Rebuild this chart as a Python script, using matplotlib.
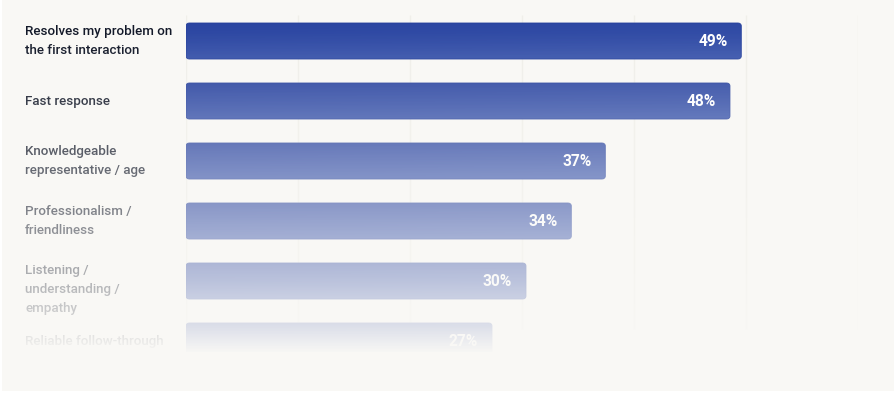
import numpy as np
import matplotlib
matplotlib.use('Agg')
import matplotlib.pyplot as plt
from matplotlib.patches import FancyBboxPatch, Rectangle
from matplotlib.colors import to_rgb
import matplotlib.transforms as mtransforms

plt.rcParams['font.family'] = ['Roboto', 'DejaVu Sans']

# data
labels = ['Resolves my problem on\nthe first interaction',
          'Fast response',
          'Knowledgeable\nrepresentative / age',
          'Professionalism /\nfriendliness',
          'Listening /\nunderstanding /\nempathy',
          'Reliable follow-through']
values = [49, 48, 37, 34, 30, 27]

bg = '#f9f8f5'
bar_top = '#2b45a1'
bar_bottom = '#3c57ad'
text_col = '#131929'
grid_col = '#f0efea'

W, H = 895, 394
fig = plt.figure(figsize=(W / 100, H / 100), dpi=100)
fig.patch.set_facecolor('white')
fig.add_artist(Rectangle((2 / W, 3 / H), 1, 1, transform=fig.transFigure,
                         facecolor=bg, edgecolor='none', zorder=-5))

ax = fig.add_axes([186 / W, (H - 371) / H, 672 / W, 360 / H])
ax.set_facecolor('none')
xmax = 59.3
bh = 0.6

# gridlines
for gx in np.linspace(0, xmax, 7):
    ax.vlines(gx, -0.43, 4.8, color=grid_col, lw=1, zorder=0)

c0 = np.array(to_rgb(bar_top))
c1 = np.array(to_rgb(bar_bottom))
for i, v in enumerate(values):
    patch = FancyBboxPatch((0, i - bh / 2), v, bh,
                           boxstyle='round,pad=0,rounding_size=0.3',
                           mutation_aspect=0.17,
                           facecolor='none', edgecolor='#25409c', lw=0.6, zorder=3)
    ax.add_patch(patch)
    yy, xx = np.mgrid[0:1:24j, 0:1:60j]
    t = 0.75 * yy + 0.25 * xx
    grad = c0[None, None, :] + (c1 - c0)[None, None, :] * t[..., None]
    im = ax.imshow(grad, extent=[0, v, i + bh / 2, i - bh / 2], aspect='auto',
                   interpolation='bilinear', zorder=2)
    im.set_clip_path(patch)
    ax.annotate(f'{v}%', (v, i), xytext=(-10, 0), textcoords='offset points',
                ha='right', va='center', color='white', fontsize=11.2,
                fontweight='bold', zorder=4)

trans = mtransforms.blended_transform_factory(ax.transAxes, ax.transData)
lx = (25 - 186) / 672
for i, lab in enumerate(labels):
    n = lab.count('\n') + 1
    if n <= 2:
        ax.text(lx, i, lab, transform=trans, ha='left', va='center',
                fontsize=9.6, fontweight='medium', color=text_col, linespacing=1.6)
    else:
        ax.text(lx, i - 0.29, lab, transform=trans, ha='left', va='top',
                fontsize=9.6, fontweight='medium', color=text_col, linespacing=1.6)

ax.set_xlim(0, xmax)
ax.set_ylim(5.5, -0.5)
ax.axis('off')

# vertical fade towards the bottom
fade = fig.add_axes([2 / W, 3 / H, (W - 2) / W, (H - 3) / H], zorder=10)
rows = np.arange(H - 3)
alpha = np.interp(rows, [0, 28, 41, 101, 160, 220, 280, 325, 352, 394],
                  [0, 0, 0.02, 0.17, 0.34, 0.51, 0.69, 0.86, 1, 1])
ov = np.zeros((H - 3, 8, 4))
ov[..., :3] = to_rgb(bg)
ov[..., 3] = alpha[:, None]
fade.imshow(ov, aspect='auto', interpolation='nearest')
fade.axis('off')

fig.savefig('out.png', dpi=100, facecolor=fig.get_facecolor())
